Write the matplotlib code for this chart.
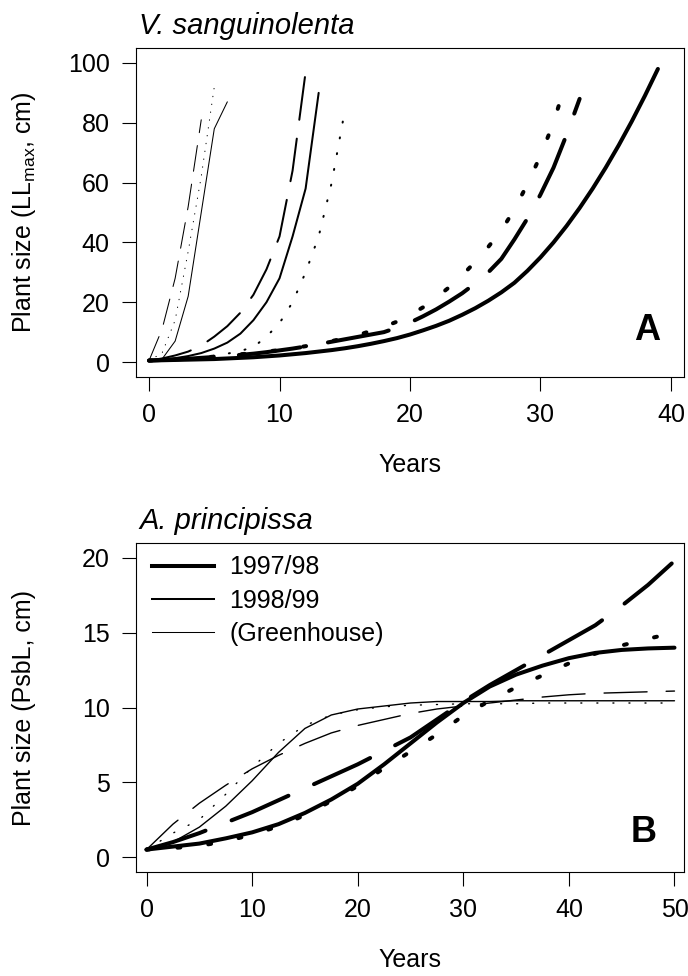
import numpy as np
import matplotlib
matplotlib.use('Agg')
import matplotlib.pyplot as plt

plt.rcParams['font.family'] = ['Liberation Sans', 'DejaVu Sans']
plt.rcParams['lines.scale_dashes'] = False

# --- panel A: V. sanguinolenta, LLmax (cm) ---
yrA_gh_solid = [0, 1, 2, 3, 4, 5, 6]
szA_gh_solid = [0.5, 1, 7, 22, 50, 78, 87]
yrA_gh_dash = [0, 1, 2, 3, 4]
szA_gh_dash = [0.5, 11, 28, 52, 81]
yrA_gh_dot = [0, 1, 2, 3, 4, 5]
szA_gh_dot = [0.5, 3, 14, 37, 62, 92]

yrA_98_solid = list(range(0, 14))
szA_98_solid = [0.5, 0.8, 1.3, 2, 3, 4.5, 6.5, 9.5, 14, 20, 28, 42, 58, 90]
yrA_98_dash = list(range(0, 13))
szA_98_dash = [0.5, 1.2, 2.2, 3.5, 5.5, 8.5, 12, 16.5, 22.5, 31, 42, 64, 97]
yrA_98_dot = list(range(0, 16))
szA_98_dot = [0.5, 0.7, 0.9, 1.2, 1.6, 2.1, 2.8, 3.7, 5, 8.5, 13, 20, 30, 42, 60, 84]

yrA_97_solid = list(range(0, 40))
szA_97_solid = [0.5, 0.6, 0.7, 0.8, 0.9, 1.0, 1.2, 1.4, 1.6, 1.9,
                2.2, 2.6, 3.0, 3.5, 4.0, 4.6, 5.3, 6.1, 7.0, 8.0,
                9.2, 10.6, 12.1, 13.8, 15.8, 18.0, 20.5, 23.3, 26.5, 30.5,
                35, 40, 45.5, 51.5, 58, 65, 72.5, 80.5, 89, 98]
yrA_97_dash = list(range(0, 34))
szA_97_dash = [0.5, 0.7, 0.9, 1.1, 1.4, 1.7, 2.0, 2.4, 2.8, 3.3,
               3.9, 4.5, 5.2, 6.0, 6.8, 7.6, 8.4, 9.2, 10, 11.5,
               13.2, 15.3, 17.6, 20.2, 23, 26.3, 30, 34.5, 41, 48,
               56, 65, 76, 88]
yrA_97_dot = list(range(0, 32)) + [31.7]
szA_97_dot = [0.5, 0.7, 0.9, 1.2, 1.5, 1.8, 2.2, 2.6, 3.0, 3.5,
              4.0, 4.6, 5.3, 6.1, 7, 8, 9, 10.4, 11.8, 13.5,
              15.8, 18.3, 21.5, 25, 29, 33.5, 38.5, 44, 51, 59.5,
              69, 80, 90]

# --- panel B: A. principissa, PsbL (cm) ---
yrB = [0, 2.5, 5, 7.5, 10, 12.5, 15, 17.5, 20, 22.5, 25,
       27.5, 30, 32.5, 35, 37.5, 40, 42.5, 45, 47.5, 50]
szB_97_solid = [0.5, 0.7, 0.9, 1.25, 1.65, 2.2, 2.95, 3.85, 4.9, 6.2, 7.6,
                9.0, 10.3, 11.4, 12.2, 12.8, 13.3, 13.65, 13.85, 13.95, 14.0]
szB_97_dash = [0.5, 1.0, 1.6, 2.3, 3.0, 3.8, 4.6, 5.4, 6.2, 7.1, 8.0,
               9.2, 10.4, 11.5, 12.5, 13.5, 14.5, 15.5, 16.8, 18.2, 19.8]
szB_97_dot = [0.5, 0.6, 0.75, 1.05, 1.5, 2.05, 2.8, 3.75, 4.75, 5.95, 7.05,
              8.2, 9.45, 10.45, 11.35, 12.15, 12.95, 13.6, 14.15, 14.6, 15.0]
szB_98_solid = [0.5, 1.0, 2.0, 3.4, 5.1, 7.0, 8.6, 9.5, 9.9, 10.1, 10.3,
                10.4, 10.4, 10.4, 10.45, 10.45, 10.45, 10.45, 10.45, 10.45, 10.45]
szB_98_dash = [0.5, 2.2, 3.6, 4.8, 5.9, 6.8, 7.6, 8.3, 8.8, 9.2, 9.6,
               9.9, 10.1, 10.3, 10.5, 10.7, 10.85, 10.95, 11.0, 11.05, 11.1]
szB_98_dot = [0.5, 1.6, 2.5, 4.2, 6.0, 7.6, 8.8, 9.5, 9.85, 10.05, 10.15,
              10.2, 10.25, 10.25, 10.25, 10.3, 10.3, 10.3, 10.3, 10.3, 10.3]

legend_labels = ['1997/98', '1998/99', '(Greenhouse)']

# line widths (pt) and dash patterns (on, off in pt) per group
LW = {'97': 2.9, '98': 1.45, 'gh': 0.75}
DASH = {
    '97': {'dash': (44.6, 20.2), 'dot': (2.1, 20.2)},
    '98': {'dash': (31.0, 13.7), 'dot': (0.75, 10.8)},
    'gh': {'dash': (18.7, 9.4), 'dot': (0.3, 5.4)},
}
FS = 18


def draw(ax, x, y, group, style, lw=None):
    lw = LW[group] if lw is None else lw
    kw = dict(color='black', lw=lw, solid_capstyle='round',
              dash_capstyle='round', solid_joinstyle='round')
    line, = ax.plot(x, y, **kw)
    if style != 'solid':
        line.set_dashes(DASH[group][style])
    return line


def style_axes(ax, xlabel, ylabel):
    for s in ax.spines.values():
        s.set_linewidth(0.8)
    ax.tick_params(direction='out', length=10, width=0.8,
                   labelsize=FS, pad=9)
    # R-like fixed margin lines for the axis titles
    ax.set_xlabel(xlabel, fontsize=FS)
    ax.xaxis.set_label_coords(0.5, -88 / 329.)
    ax.xaxis.label.set_verticalalignment('center')
    ax.set_ylabel(ylabel, fontsize=FS)
    ax.yaxis.set_label_coords((24 - 136) / 548., 0.5)
    ax.yaxis.label.set_verticalalignment('center')


W, H = 688.0, 976.0
fig = plt.figure(figsize=(W / 100, H / 100), dpi=100)

# panel A
axA = fig.add_axes([136 / W, 1 - 377 / H, 548 / W, 329 / H])
draw(axA, yrA_gh_solid, szA_gh_solid, 'gh', 'solid')
draw(axA, yrA_gh_dash, szA_gh_dash, 'gh', 'dash')
draw(axA, yrA_gh_dot, szA_gh_dot, 'gh', 'dot')
draw(axA, yrA_98_solid, szA_98_solid, '98', 'solid')
draw(axA, yrA_98_dash, szA_98_dash, '98', 'dash')
draw(axA, yrA_98_dot, szA_98_dot, '98', 'dot')
draw(axA, yrA_97_solid, szA_97_solid, '97', 'solid')
draw(axA, yrA_97_dash, szA_97_dash, '97', 'dash')
draw(axA, yrA_97_dot, szA_97_dot, '97', 'dot')
axA.set_xlim(-1.0, 41.0)
axA.set_ylim(-5, 105)
axA.set_xticks([0, 10, 20, 30, 40])
axA.set_yticks([0, 20, 40, 60, 80, 100])
style_axes(axA, 'Years', 'Plant size (LL$_{\\mathregular{max}}$, cm)')
axA.text(647 / W, 1 - 331 / H, 'A', transform=fig.transFigure, fontsize=26,
         fontweight='bold', ha='center', va='center')
fig.text(139 / W, 1 - 34 / H, 'V. sanguinolenta', fontsize=21, style='italic',
         va='baseline', ha='left')

# panel B
axB = fig.add_axes([136 / W, 1 - 872 / H, 548 / W, 329 / H])
draw(axB, yrB, szB_98_solid, '98', 'solid', lw=1.0)
draw(axB, yrB, szB_98_dash, '98', 'dash', lw=1.0)
draw(axB, yrB, szB_98_dot, '98', 'dot', lw=1.0)
draw(axB, yrB, szB_97_solid, '97', 'solid')
draw(axB, yrB, szB_97_dash, '97', 'dash')
draw(axB, yrB, szB_97_dot, '97', 'dot')
axB.set_xlim(-1.0, 50.9)
axB.set_ylim(-1, 21)
axB.set_xticks([0, 10, 20, 30, 40, 50])
axB.set_yticks([0, 5, 10, 15, 20])
style_axes(axB, 'Years', 'Plant size (PsbL, cm)')
axB.text(644 / W, 1 - 832 / H, 'B', transform=fig.transFigure, fontsize=26,
         fontweight='bold', ha='center', va='center')
fig.text(139 / W, 1 - 529 / H, 'A. principissa', fontsize=21, style='italic',
         va='baseline', ha='left')

handles = [plt.Line2D([], [], color='black', lw=LW[g]) for g in ['97', '98', 'gh']]
axB.legend(handles, legend_labels, loc='upper left', frameon=False,
           fontsize=FS, handlelength=2.5, handletextpad=0.6,
           labelspacing=0.36, borderaxespad=0.1, bbox_to_anchor=(0.006, 1.0))

fig.savefig('out.png', dpi=100)
